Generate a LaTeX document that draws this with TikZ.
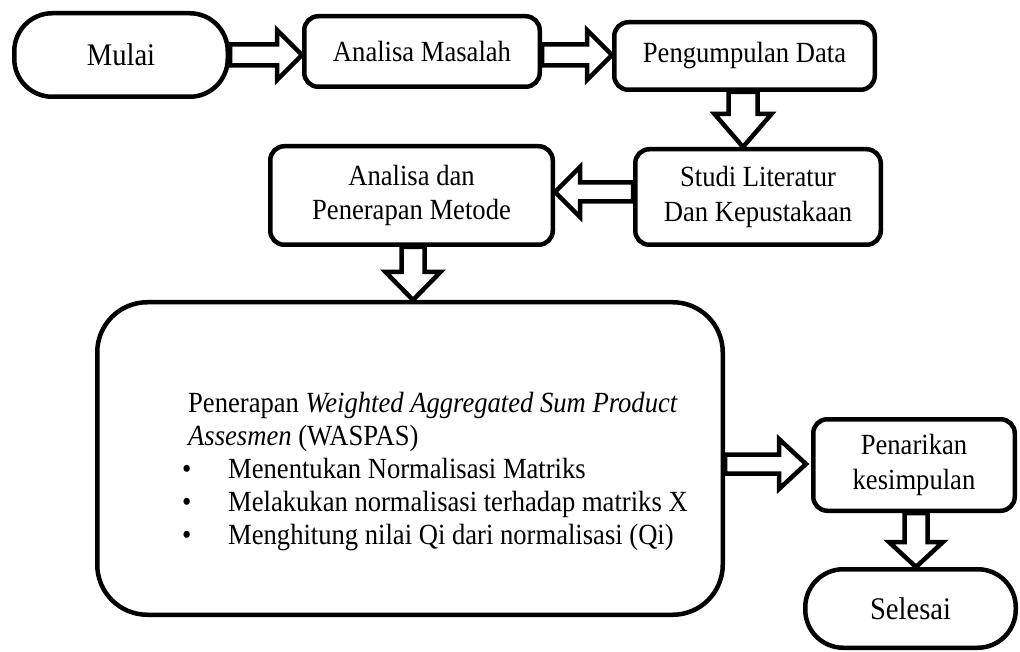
\documentclass[tikz,border=0pt]{standalone}
\usepackage{fontspec}
\usepackage{graphicx}
\setmainfont{Liberation Serif}
\usetikzlibrary{calc}
\newcommand{\vstretch}[1]{\scalebox{1}[1.1]{#1}}
\newcommand{\twolines}[2]{\vstretch{\begin{tabular}{@{}c@{}}#1\\#2\end{tabular}}}
\tikzset{
  box/.style={draw, line width=4.5pt, fill=white, rounded corners=14pt, inner sep=0pt,
    font=\fontsize{26.6pt}{31.8pt}\selectfont, align=center},
  term/.style={box, rounded corners=38pt, font=\fontsize{28.6pt}{31.8pt}\selectfont},
  bigbox/.style={draw, line width=4.5pt, fill=white, rounded corners=50pt, inner sep=0pt},
  wtext/.style={inner sep=0pt, anchor=base west, font=\fontsize{26.6pt}{30pt}\selectfont},
  blockarrow/.style={draw, line width=4.5pt, fill=white, line join=miter, miter limit=10}
}
% horizontal block arrow: #1 start, #2 tip, #3 shaft half-width, #4 head half-width, #5 head length (negative = leftward)
\newcommand{\harr}[5]{\draw[blockarrow] let \p1=(#1), \p2=(#2) in
  (\x1,{\y1+#3}) -- ({\x2-(#5)},{\y1+#3}) -- ({\x2-(#5)},{\y1+#4}) -- (\x2,\y1)
  -- ({\x2-(#5)},{\y1-#4}) -- ({\x2-(#5)},{\y1-#3}) -- (\x1,{\y1-#3}) -- cycle;}
% vertical (downward) block arrow
\newcommand{\varr}[5]{\draw[blockarrow] let \p1=(#1), \p2=(#2) in
  ({\x1+#3},\y1) -- ({\x1+#3},{\y2+#5}) -- ({\x1+#4},{\y2+#5}) -- (\x1,\y2)
  -- ({\x1-#4},{\y2+#5}) -- ({\x1-#3},{\y2+#5}) -- ({\x1-#3},\y1) -- cycle;}
\begin{document}
\begin{tikzpicture}[x=1pt,y=-1pt]
\useasboundingbox (0,0) rectangle (1020,652);
% boxes
\node[term, minimum width=213.5pt, minimum height=83.5pt] (m) at (121,55) {\vstretch{Mulai}};
\node[box, minimum width=235.5pt, minimum height=70.5pt] (a) at (422,51.5) {\vstretch{Analisa Masalah}};
\node[box, minimum width=260.5pt, minimum height=67.5pt] (p) at (744.5,56) {\vstretch{Pengumpulan Data}};
\node[box, minimum width=245.5pt, minimum height=95.5pt] (s) at (758,197) {\twolines{Studi Literatur}{Dan Kepustakaan}};
\node[box, minimum width=282.5pt, minimum height=98.5pt] (ad) at (411.5,195.5) {\twolines{Analisa dan}{Penerapan Metode}};
\node[bigbox, minimum width=625.5pt, minimum height=312.5pt] (w) at (410,458.5) {};
\node[box, minimum width=201.5pt, minimum height=91.5pt] (pk) at (914,465) {\twolines{Penarikan}{kesimpulan}};
\node[term, minimum width=210.5pt, minimum height=78.5pt] (sl) at (910.5,608.5) {\vstretch{Selesai}};
% text of the big box
\node[wtext] (w1) at (188,412) {\vstretch{Penerapan \textit{Weighted Aggregated Sum Product}}};
\node[wtext] (w2) at (188,445) {\vstretch{\textit{Assesmen} (WASPAS)}};
\node[wtext] (b1) at (182,478) {\vstretch{\makebox[46pt][l]{\textbullet}Menentukan Normalisasi Matriks}};
\node[wtext] (b2) at (182,511) {\vstretch{\makebox[46pt][l]{\textbullet}Melakukan normalisasi terhadap matriks X}};
\node[wtext] (b3) at (182,544) {\vstretch{\makebox[46pt][l]{\textbullet}Menghitung nilai Qi dari normalisasi (Qi)}};
% block arrows
\harr{m.east |- 0,55}{a.west |- 0,55}{10.5pt}{25pt}{25pt}
\harr{a.east |- 0,55}{p.west |- 0,55}{10.5pt}{25pt}{25pt}
\varr{p.south -| 743,0}{s.north -| 743,0}{14.5pt}{28.5pt}{33pt}
\harr{s.west |- 0,192}{ad.east |- 0,192}{9.5pt}{25pt}{-25pt}
\varr{ad.south -| 413,0}{w.north -| 413,0}{11.5pt}{27.5pt}{28pt}
\harr{w.east |- 0,464}{$(pk.west |- 0,464)+(-5,0)$}{9.5pt}{25pt}{27pt}
\varr{pk.south -| 916,0}{sl.north -| 916,0}{11.5pt}{27pt}{25pt}
\end{tikzpicture}
\end{document}
